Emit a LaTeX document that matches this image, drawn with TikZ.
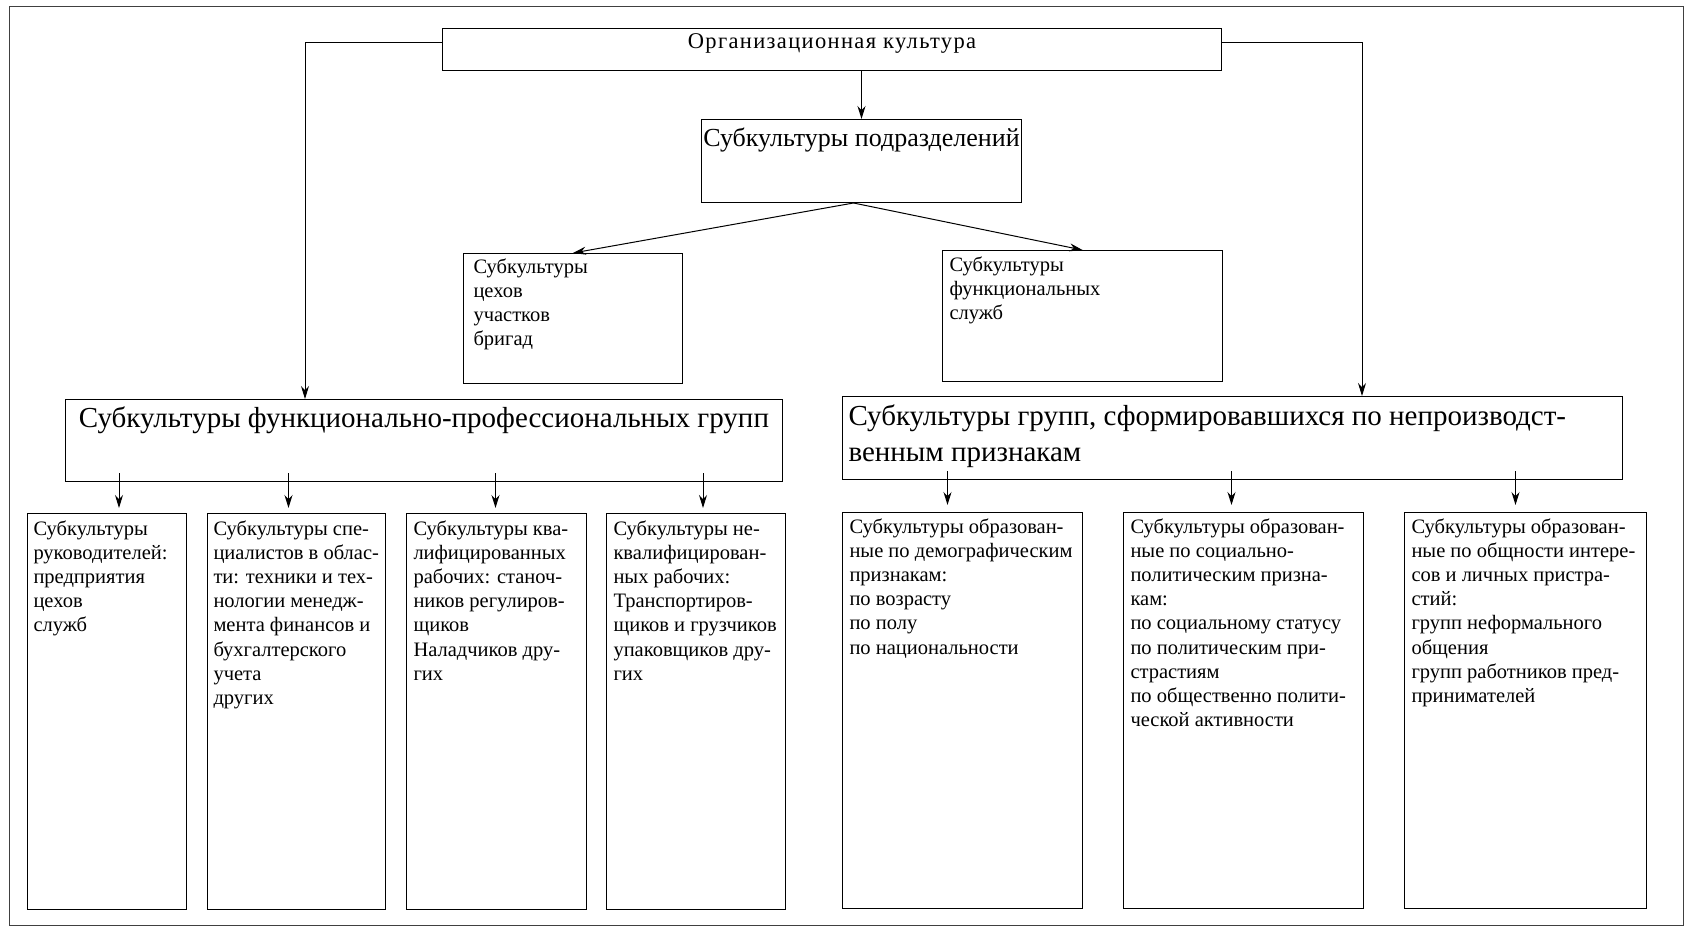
\documentclass[tikz,border=0pt]{standalone}
\usepackage{fontspec}
\setmainfont{Liberation Serif}
\newfontfamily\orgfont[LetterSpace=6]{Liberation Serif}
\usetikzlibrary{positioning}
\usetikzlibrary{calc}
\usetikzlibrary{arrows.meta}

\begin{document}
\begin{tikzpicture}[x=1pt,y=-1pt,>={Stealth[length=13pt,width=8pt]},
					line width=1pt,node distance=20pt]
					\tikzstyle{box}=[draw,rectangle,anchor=north west,inner sep=0pt]
					\tikzstyle{txt}=[anchor=north west,inner sep=0pt,align=left,
					font=\fontsize{20.5}{24.2}\selectfont]
					\tikzstyle{big}=[font=\fontsize{29}{36}\selectfont]
					
					\useasboundingbox (0,0) rectangle (1697,931);
					\draw[line width=0.8pt,black!75] (9,6) rectangle (1683,925);
					
					\node[box,minimum width=779pt,text height=20pt,text depth=22pt,
					font=\orgfont\fontsize{22.5}{26}\selectfont] (org) at (442,28) {Организационная культура};
					\node[box,minimum width=320pt,text height=27pt,text depth=56pt,
					font=\fontsize{26}{30}\selectfont] (podr) at (701,119) {Субкультуры подразделений};
					\node[box,minimum width=219pt,minimum height=130pt] (cekh) at (463,253) {};
					\node[box,minimum width=280pt,minimum height=131pt] (funk) at (942,250) {};
					\node[box,big,minimum width=717pt,text height=28pt,text depth=54pt]
					(prof) at (65,399) {Субкультуры функционально-профессиональных групп};
					\node[box,minimum width=780pt,minimum height=83pt] (nepr) at (842,396) {};
					
					\node[box,minimum width=159pt,minimum height=396pt] (P_1) at (27,513) {};
					\node[box,minimum width=178pt,minimum height=396pt] (P_2) [right=of P_1] {};
					\node[box,minimum width=180pt,minimum height=396pt] (P_3) [right=of P_2] {};
					\node[box,minimum width=179pt,minimum height=396pt] (P_4) [right=19pt of P_3] {};
					\node[box,minimum width=240pt,minimum height=396pt] (N_1) at (842,512) {};
					\node[box,minimum width=240pt,minimum height=396pt] (N_2) [right=40pt of N_1] {};
					\node[box,minimum width=242pt,minimum height=396pt] (N_3) [right=40pt of N_2] {};
					
					% texts
					\node[txt] (cekht) at ($(cekh.north west)+(10,5)$) {Субкультуры\\цехов\\участков\\бригад};
					\node[txt] (funkt) at ($(funk.north west)+(7,6)$) {Субкультуры\\функциональных\\служб};
					\node[txt,big] (neprt) at ($(nepr.north west)+(6,8)$) {Субкультуры групп, сформировавшихся по непроизводст-\\венным признакам};
					\node[txt] (P_1t) at ($(P_1.north west)+(6,7)$) {Субкультуры\\руководителей:\\предприятия\\цехов\\служб};
					\node[txt] (P_2t) at ($(P_2.north west)+(6,7)$) {Субкультуры спе-\\циалистов в облас-\\ти: техники и тех-\\нологии менедж-\\мента финансов и\\бухгалтерского\\учета\\других};
					\node[txt] (P_3t) at ($(P_3.north west)+(7,7)$) {Субкультуры ква-\\лифицированных\\рабочих: станоч-\\ников регулиров-\\щиков\\Наладчиков дру-\\гих};
					\node[txt] (P_4t) at ($(P_4.north west)+(7,7)$) {Субкультуры не-\\квалифицирован-\\ных рабочих:\\Транспортиров-\\щиков и грузчиков\\упаковщиков дру-\\гих};
					\node[txt] (N_1t) at ($(N_1.north west)+(7,6)$) {Субкультуры образован-\\ные по демографическим\\признакам:\\по возрасту\\по полу\\по национальности};
					\node[txt] (N_2t) at ($(N_2.north west)+(7,6)$) {Субкультуры образован-\\ные по социально-\\политическим призна-\\кам:\\по социальному статусу\\по политическим при-\\страстиям\\по общественно полити-\\ческой активности};
					\node[txt] (N_3t) at ($(N_3.north west)+(7,6)$) {Субкультуры образован-\\ные по общности интере-\\сов и личных пристра-\\стий:\\групп неформального\\общения\\групп работников пред-\\принимателей};
					
					% connectors
					\draw[->] (podr.north |- org.south) -- (podr.north);
					\draw[->] ([yshift=7pt]org.west) -| ($(prof.north west)+(240,0)$);
					\draw[->] ([yshift=7pt]org.east) -| ($(nepr.north west)+(520,0)$);
					\draw[->] ([xshift=-8pt]podr.south) -- (cekh.north);
					\draw[->] ([xshift=-8pt]podr.south) -- (funk.north);
					
					\draw[->] ($(P_1.north |- prof.south)+(12,-9)$) -- ($(P_1.north)+(12,-5)$);
					\draw[->] ($(P_2.north |- prof.south)+(-8,-9)$) -- ($(P_2.north)+(-8,-5)$);
					\draw[->] ($(P_3.north |- prof.south)+(-1,-9)$) -- ($(P_3.north)+(-1,-5)$);
					\draw[->] ($(P_4.north |- prof.south)+(7,-9)$) -- ($(P_4.north)+(7,-5)$);
					\draw[->] ($(N_1.north |- nepr.south)+(-15,-9)$) -- ($(N_1.north)+(-15,-7)$);
					\draw[->] ($(N_2.north |- nepr.south)+(-12,-9)$) -- ($(N_2.north)+(-12,-7)$);
					\draw[->] ($(N_3.north |- nepr.south)+(-10,-9)$) -- ($(N_3.north)+(-10,-7)$);
					
\end{tikzpicture}
\end{document}
